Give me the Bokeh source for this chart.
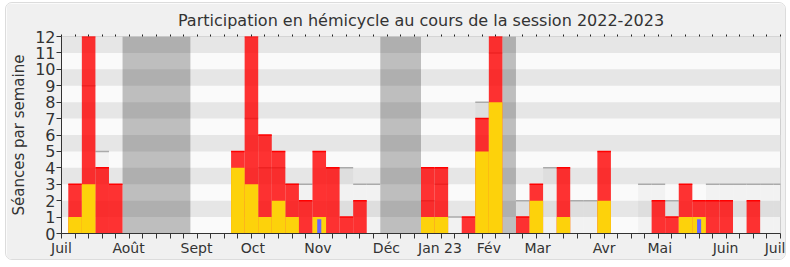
from bokeh.plotting import figure
from bokeh.models import FixedTicker, LinearAxis, Range1d, ColumnDataSource
from bokeh.embed import file_html
from bokeh.resources import INLINE

# ---- data (weeks of the 2022-2023 session, index 0 = early July 2022) ----
semaines = list(range(54))
presences = [0, 3, 12, 4, 3, 0, 0, 0, 0, 0,
             0, 0, 0, 5, 12, 6, 5, 3, 2, 5,
             4, 1, 2, 0, 0, 0, 0, 4, 4, 0,
             1, 7, 12, 0, 1, 3, 0, 4, 0, 0,
             5, 0, 0, 0, 2, 1, 3, 2, 2, 2,
             0, 2, 0, 0]
participations = [0, 1, 3, 0, 0, 0, 0, 0, 0, 0,
                  0, 0, 0, 4, 3, 1, 2, 1, 0, 1,
                  0, 0, 0, 0, 0, 0, 0, 1, 1, 0,
                  0, 5, 8, 0, 0, 2, 0, 1, 0, 0,
                  2, 0, 0, 0, 0, 0, 1, 1, 0, 0,
                  0, 0, 0, 0]
questions = [0] * 54
questions[19] = 0.87
questions[47] = 0.87
mediane = [0, 0, 9, 5, 0, 0, 0, 0, 0, 0,
           0, 0, 0, 0, 7, 4, 4, 3, 3, 0,
           4, 4, 3, 3, 0, 0, 0, 2, 3, 1,
           0, 8, 11, 0, 2, 0, 4, 0, 2, 2,
           0, 0, 0, 3, 3, 2, 0, 0, 3, 3,
           3, 3, 3, 3]
vacances_debut = [4.5, 23.5, 32.5]
vacances_fin = [9.5, 26.5, 33.5]
mois_pos = [0, 4.94, 9.95, 14.1, 18.9, 23.95, 27.9, 31.5, 35.1, 40.0, 44.1, 48.95, 53]
mois_lab = ["Juil", "Août", "Sept", "Oct", "Nov", "Déc", "Jan 23", "Fév", "Mar", "Avr", "Mai", "Juin", "Juil"]
y_ticks = list(range(13))

FONT = "DejaVu Sans"
TXT = "#333333"

src = ColumnDataSource(dict(
    x=semaines, pres=presences, part=participations, q=questions, med=mediane,
    x0=[s - 0.5 for s in semaines], x1=[s + 0.5 for s in semaines],
    med_a=[1 if m > 0 else 0 for m in mediane],
    pres_a=[1 if v > 0 else 0 for v in presences],
))

p = figure(width=781, height=258, x_range=Range1d(0, 53), y_range=Range1d(0, 12),
           output_backend="svg", toolbar_location=None,
           min_border_left=55, min_border_right=7, min_border_top=33, min_border_bottom=28,
           title="Participation en hémicycle au cours de la session 2022-2023")
p.margin = (2, 0, 0, 5)
p.styles = {"border": "1px solid #dcdcdc", "border-radius": "7px", "overflow": "hidden"}

p.border_fill_color = "#f0f0f0"
p.background_fill_color = "#fafafa"
p.outline_line_color = "#cfcfcf"

p.title.text_font = FONT
p.title.text_font_size = "16px"
p.title.text_font_style = "normal"
p.title.text_color = TXT
p.title.align = "center"
p.title.offset = 8

# axes
p.xaxis.ticker = FixedTicker(ticks=mois_pos, minor_ticks=semaines)
p.xaxis.major_label_overrides = {pos: lab for pos, lab in zip(mois_pos, mois_lab)}
p.xaxis.major_tick_line_color = None
p.xaxis.major_tick_out = 5
p.xaxis.major_tick_in = 0
p.xaxis.minor_tick_out = 5
p.xaxis.minor_tick_in = 0
p.xaxis.minor_tick_line_color = TXT
p.xaxis.major_label_standoff = 1
p.xaxis.axis_line_color = TXT
p.xaxis.major_label_text_font = FONT
p.xaxis.major_label_text_font_size = "14px"
p.xaxis.major_label_text_color = TXT

p.yaxis.ticker = FixedTicker(ticks=y_ticks, minor_ticks=[])
p.yaxis.major_tick_out = 5
p.yaxis.major_tick_in = 0
p.yaxis.major_tick_line_color = TXT
p.yaxis.axis_line_color = TXT
p.yaxis.major_label_standoff = 1
p.yaxis.major_label_text_font = FONT
p.yaxis.major_label_text_font_size = "16px"
p.yaxis.major_label_text_color = TXT
p.yaxis.axis_label = "Séances par semaine"
p.yaxis.axis_label_text_font = FONT
p.yaxis.axis_label_text_font_size = "15px"
p.yaxis.axis_label_text_font_style = "normal"
p.yaxis.axis_label_text_color = TXT
p.yaxis.axis_label_standoff = 4

top = LinearAxis(ticker=FixedTicker(ticks=[], minor_ticks=semaines))
top.axis_line_color = None
top.major_tick_line_color = None
top.minor_tick_out = 2
top.minor_tick_in = 0
top.minor_tick_line_color = "#222222"
top.major_label_standoff = 0
p.add_layout(top, "above")

p.xgrid.grid_line_color = None
p.ygrid.grid_line_color = None
p.ygrid.band_fill_color = "#e6e6e6"
p.ygrid.band_fill_alpha = 1.0

# vacations
p.quad(left=vacances_debut, right=vacances_fin, bottom=0, top=12,
       fill_color="#000000", fill_alpha=0.24, line_color=None)

# grey reference bars
p.vbar(x="x", width=1, bottom=0, top="med", source=src,
       fill_color="#000000", fill_alpha=0.03, line_color=None)
p.segment(x0="x0", x1="x1", y0="med", y1="med", source=src,
          line_color="#aaaaaa", line_width=1.5, line_alpha="med_a")

# presences (red)
p.vbar(x="x", width=1, bottom=0, top="pres", source=src,
       fill_color="#ff0000", fill_alpha=0.8, line_color=None)
p.segment(x0="x0", x1="x1", y0="pres", y1="pres", source=src,
          line_color="#ff0000", line_width=1.5, line_alpha="pres_a")

# participations (yellow)
p.vbar(x="x", width=1, bottom=0, top="part", source=src,
       fill_color="#fdd20b", line_color=None)

# questions (blue)
p.vbar(x="x", width=0.3, bottom=0, top="q", source=src,
       fill_color="#6666ff", line_color=None)

open("out.html", "w").write(file_html(p, INLINE))
